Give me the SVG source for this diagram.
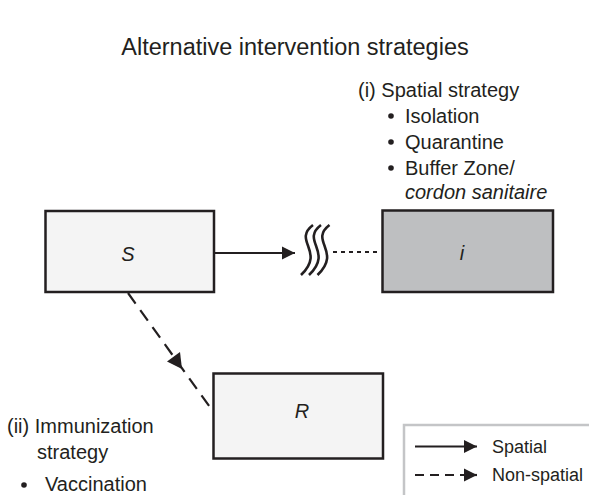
<svg xmlns="http://www.w3.org/2000/svg" width="589" height="495" viewBox="0 0 589 495">
<defs>
<style>
text{font-family:"Liberation Sans",Arial,sans-serif;fill:#231f20}
.t{font-size:20px}
.lg{font-size:18px}
.box{stroke:#231f20;stroke-width:2.5}
.lt{fill:#f4f4f4}
.dk{fill:#bebfc1}
.ln{stroke:#231f20;stroke-width:2.2;fill:none}
.wv{stroke:#231f20;stroke-width:2.6;fill:none}
</style>
<marker id="ah" viewBox="0 0 10 10" refX="10" refY="5" markerWidth="13" markerHeight="14" markerUnits="userSpaceOnUse" orient="auto"><path d="M0,0L10,5L0,10z" fill="#231f20"/></marker>
</defs>
<rect width="589" height="495" fill="#fff"/>
<text x="295" y="55" text-anchor="middle" style="font-size:23.5px">Alternative intervention strategies</text>
<g id="spatial-strategy">
<text class="t" x="358" y="97">(i) Spatial strategy</text>
<circle cx="391" cy="116" r="2.8" fill="#231f20"/>
<text class="t" x="405" y="123">Isolation</text>
<circle cx="391" cy="142" r="2.8" fill="#231f20"/>
<text class="t" x="405" y="149">Quarantine</text>
<circle cx="391" cy="168" r="2.8" fill="#231f20"/>
<text class="t" x="405" y="175">Buffer Zone/</text>
<text class="t" x="405" y="199" font-style="italic">cordon sanitaire</text>
</g>
<g id="node-S">
<rect class="box lt" x="45.5" y="211" width="168.5" height="81"/>
<text class="t" x="128" y="261" text-anchor="middle" font-style="italic">S</text>
</g>
<g id="node-i">
<rect class="box dk" x="382.5" y="210.5" width="170.5" height="81.5"/>
<text class="t" x="462" y="260" text-anchor="middle" font-style="italic">i</text>
</g>
<g id="node-R">
<rect class="box lt" x="213.5" y="373.5" width="169.5" height="85"/>
<text class="t" x="302" y="418" text-anchor="middle" font-style="italic">R</text>
</g>
<g id="connectors">
<line class="ln" x1="215" y1="253" x2="295" y2="253" marker-end="url(#ah)"/>
<path class="wv" d="M313,225 C292,241 326,251 301,275 M321,225 C300,241 334,251 309,275 M329.5,225 C308.5,241 342.5,251 317.5,275"/>
<line class="ln" x1="333" y1="252" x2="381" y2="252" stroke-dasharray="4,4"/>
<line class="ln" x1="128" y1="293" x2="212" y2="410" stroke-dasharray="13,8"/>
<path d="M167,361.5 L180,352 L182,369z" fill="#231f20"/>
</g>
<g id="immunization-strategy">
<text class="t" x="7" y="433">(ii) Immunization</text>
<text class="t" x="37" y="459">strategy</text>
<circle cx="24" cy="485" r="2.8" fill="#231f20"/>
<text class="t" x="45" y="491">Vaccination</text>
</g>
<g id="legend">
<rect x="404" y="425" width="200" height="90" fill="none" stroke="#c4c5c7" stroke-width="2.5"/>
<line class="ln" x1="415" y1="446.5" x2="477" y2="446.5" marker-end="url(#ah)"/>
<line class="ln" x1="415" y1="475" x2="466" y2="475" stroke-dasharray="9,6"/>
<line class="ln" x1="466" y1="475" x2="477" y2="475" marker-end="url(#ah)"/>
<text class="lg" x="492" y="453">Spatial</text>
<text class="lg" x="492" y="481">Non-spatial</text>
</g>
</svg>
